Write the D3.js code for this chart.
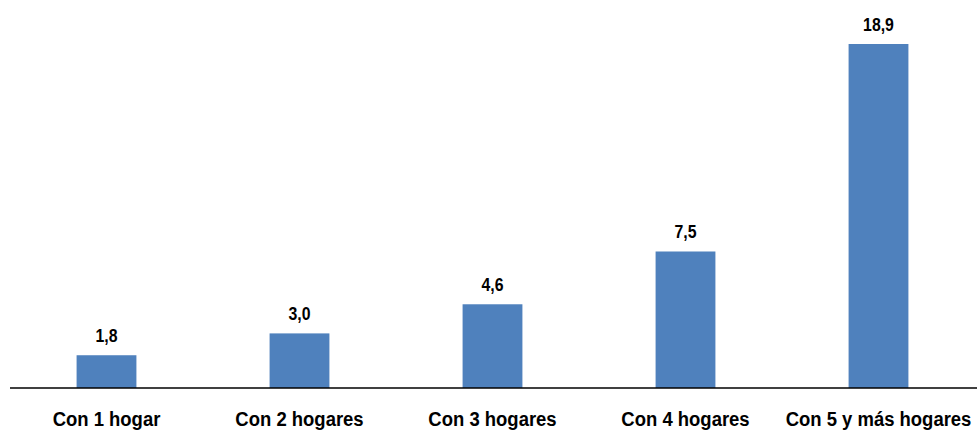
<!DOCTYPE html>
<html><head><meta charset="utf-8">
<script src="https://cdn.jsdelivr.net/npm/d3@7"></script>
<style>body{margin:0;background:#fff}svg{display:block}text{font-family:"Liberation Sans",Arial,sans-serif;font-weight:bold;fill:#000}</style>
</head><body><svg id="c" width="979" height="432"></svg>
<script>
const categories = ["Con 1 hogar","Con 2 hogares","Con 3 hogares","Con 4 hogares","Con 5 y más hogares"];
const values = [1.8, 3.0, 4.6, 7.5, 18.9];

const svg = d3.select("#c");
const W = 979;
const x = d3.scaleBand().domain(categories).range([10, W - 4]).paddingInner(0.69).paddingOuter(0.345);
const y = d3.scaleLinear().domain([0, 18.9]).range([388, 44]);

svg.selectAll("rect.bar").data(values).join("rect")
  .attr("class","bar")
  .attr("x",(d,i)=>x(categories[i]))
  .attr("width",x.bandwidth())
  .attr("y",d=>y(d))
  .attr("height",d=>y(0)-y(d))
  .attr("fill","#4F81BD");

svg.selectAll("text.val").data(values).join("text")
  .attr("class","val")
  .attr("transform",(d,i)=>`translate(${x(categories[i])+x.bandwidth()/2},${y(d)-13}) scale(0.88,1)`)
  .attr("text-anchor","middle")
  .attr("font-size",18)
  .text(d=>d.toFixed(1).replace(".",","));

const ax = d3.axisBottom(x).tickSize(0).tickPadding(0);
const g = svg.append("g").attr("transform",`translate(0,${y(0)})`).call(ax);
g.select(".domain").attr("stroke","#000").attr("stroke-width",1.3).attr("d",`M10,0H977`);
g.selectAll(".tick text")
  .attr("font-size",21).attr("font-family",null)
  .attr("y",0).attr("dy",0)
  .attr("transform","translate(0,38) scale(0.88,1)");
</script></body></html>
